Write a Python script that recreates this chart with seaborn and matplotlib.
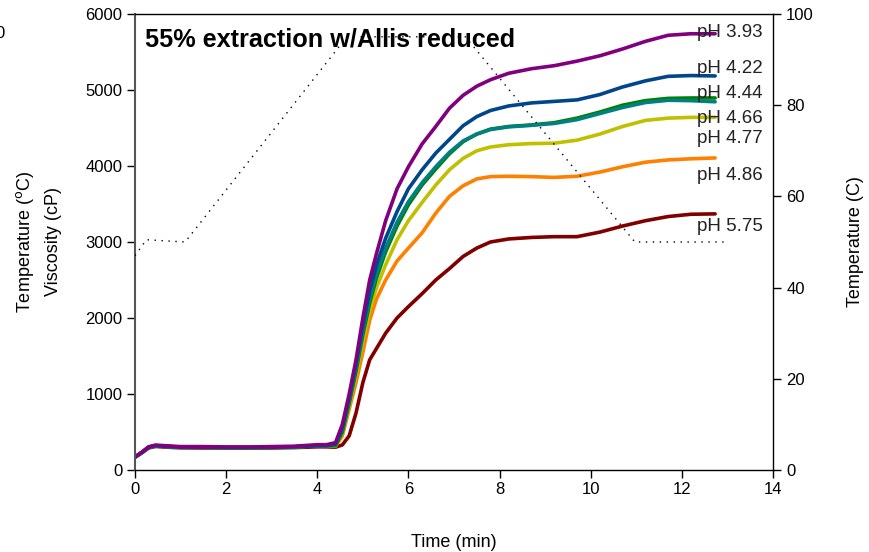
import numpy as np
import pandas as pd
import seaborn as sb
import matplotlib
matplotlib.use("Agg")
import matplotlib.pyplot as plt

# time grid (min)
time = [0, 0.15, 0.3, 0.45, 0.7, 1.0, 1.5, 2, 2.5, 3, 3.5, 4.0, 4.2, 4.4,
        4.55, 4.7, 4.85, 5.0, 5.15, 5.3, 5.5, 5.75, 6.0, 6.3, 6.6, 6.9, 7.2,
        7.5, 7.8, 8.2, 8.7, 9.2, 9.7, 10.2, 10.7, 11.2, 11.7, 12.2, 12.73]

base = [170, 230, 300, 320, 310, 300, 300, 295, 295, 300, 305, 320, 320]

ph393 = [170, 235, 305, 328, 318, 308, 308, 303, 303, 308, 313, 333, 333, 360,
         600, 1000, 1450, 2000, 2500, 2850, 3280, 3700, 3990, 4290, 4520, 4760, 4930,
         5050, 5135, 5220, 5280, 5320, 5380, 5450, 5540, 5640, 5720, 5740, 5740]
ph422 = base + [340,
                560, 950, 1400, 1900, 2350, 2700, 3050, 3400, 3700, 3950, 4170, 4350, 4530,
                4650, 4730, 4790, 4830, 4850, 4870, 4940, 5040, 5120, 5180, 5190, 5185]
ph444 = base + [320,
                500, 880, 1300, 1780, 2200, 2530, 2870, 3210, 3490, 3750, 3960, 4160, 4320,
                4420, 4485, 4520, 4540, 4570, 4630, 4710, 4800, 4860, 4890, 4895, 4895]
ph466 = base + [330,
                540, 920, 1350, 1830, 2250, 2580, 2920, 3260, 3530, 3780, 3990, 4180, 4330,
                4420, 4480, 4515, 4535, 4560, 4610, 4690, 4770, 4835, 4865, 4860, 4845]
ph477 = base + [320,
                480, 850, 1250, 1700, 2100, 2400, 2700, 3030, 3280, 3520, 3750, 3950, 4100,
                4200, 4250, 4280, 4295, 4300, 4340, 4420, 4520, 4600, 4630, 4640, 4640]
ph486 = base + [310,
                450, 800, 1150, 1550, 1970, 2250, 2500, 2750, 2920, 3120, 3380, 3600, 3740,
                3830, 3860, 3865, 3860, 3850, 3865, 3920, 3990, 4050, 4080, 4095, 4106]
ph575 = [170, 225, 290, 310, 300, 292, 290, 288, 288, 290, 295, 305, 305, 300,
         330, 450, 750, 1150, 1450, 1600, 1800, 2000, 2150, 2320, 2500, 2650, 2810,
         2920, 3000, 3040, 3060, 3070, 3070, 3130, 3210, 3280, 3335, 3365, 3370]

labels = ["pH 3.93", "pH 4.22", "pH 4.44", "pH 4.66", "pH 4.77", "pH 4.86", "pH 5.75"]
series = [ph393, ph422, ph444, ph466, ph477, ph486, ph575]
colors = ["#800080", "#00468b", "#008000", "#008080", "#c0c000", "#ff8000", "#800000"]
label_y = [5760, 5280, 4960, 4620, 4360, 3870, 3200]

# temperature profile
temp_t = [0, 0.25, 1.1, 4.65, 7.25, 10.97, 13.0]
temp_c = [47, 50.5, 50, 95, 95, 50, 50]

sb.set_style("white")
plt.rcParams['font.family'] = ['Liberation Sans', 'DejaVu Sans']
plt.rcParams['text.color'] = 'black'
plt.rcParams['axes.labelcolor'] = 'black'
plt.rcParams['xtick.color'] = 'black'
plt.rcParams['ytick.color'] = 'black'

rows = []
for lab, vals in zip(labels, series):
    for t, v in zip(time, vals):
        rows.append({"time": t, "visc": v, "sample": lab})
df = pd.DataFrame(rows)

fig = plt.figure(figsize=(8.69, 5.52), dpi=100)
ax = fig.add_axes([135/869, 1-470/552, 638/869, 456/552])

# draw bottom curves first, purple on top
order = [6, 5, 4, 2, 3, 1, 0]
for i in order:
    sb.lineplot(x="time", y="visc", data=df[df["sample"] == labels[i]],
                color=colors[i], linewidth=2.6, ax=ax, legend=False)

for lab, y in zip(labels, label_y):
    ax.text(12.33, y, lab, fontsize=13.5, va="center", ha="left", color="#222222")

ax.set_xlim(0, 14)
ax.set_ylim(0, 6000)
ax.set_xticks(range(0, 15, 2))
ax.set_yticks(range(0, 6001, 1000))
ax.tick_params(direction="out", length=6, width=1, labelsize=12, pad=3,
               bottom=True, left=True)
ax.set_xlabel("Time (min)", fontsize=13, labelpad=26)
ax.set_ylabel("Temperature ($^{\\rm o}$C)\nViscosity (cP)", fontsize=13, labelpad=17,
              linespacing=1.7)
for s in ["top", "right", "bottom"]:
    ax.spines[s].set_color("black")
    ax.spines[s].set_linewidth(1)
ax.spines["left"].set_color("#555555")
ax.spines["left"].set_linewidth(1.5)

ax.text(0.015, 0.945, "55% extraction w/Allis reduced", transform=ax.transAxes,
        fontsize=18.2, fontweight="bold", va="center", ha="left")

ax2 = ax.twinx()
sb.lineplot(x=temp_t, y=temp_c, color="black", linestyle=(0, (1, 4)), linewidth=1,
            ax=ax2)
ax2.set_ylim(0, 100)
ax2.set_yticks(range(0, 101, 20))
ax2.tick_params(direction="out", length=6, width=1, labelsize=12, right=True)
ax2.set_ylabel("Temperature (C)", fontsize=13, labelpad=24)
for s in ax2.spines.values():
    s.set_visible(False)

fig.text(0.0, 0.94, "0", fontsize=12, ha="center", va="center")

fig.savefig("out.png", dpi=100)
